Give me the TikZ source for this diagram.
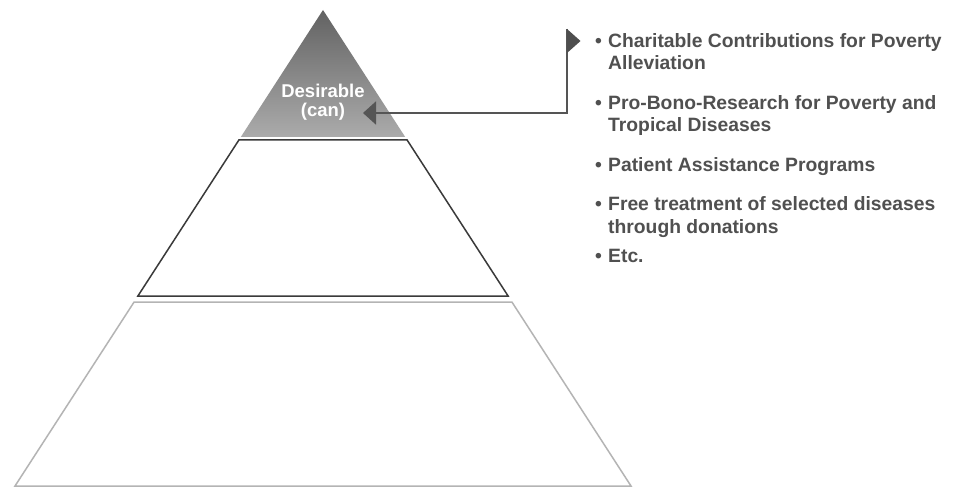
\documentclass[tikz,border=0pt]{standalone}
\usepackage{fontspec}
\setmainfont{Liberation Sans}
\usetikzlibrary{arrows.meta}
\definecolor{txtgray}{HTML}{505050}
\definecolor{linegray}{HTML}{555555}
\definecolor{darkedge}{HTML}{3A3A3A}
\definecolor{lightedge}{HTML}{B4B4B4}
\definecolor{apexgray}{HTML}{626262}
\definecolor{basegray}{HTML}{ABABAB}
\begin{document}
\begin{tikzpicture}[x=1pt,y=-1pt,
  listtext/.style={anchor=base west, inner sep=0pt, text=txtgray,
    font=\bfseries\fontsize{19.3}{22}\selectfont},
  leveltext/.style={anchor=base, inner sep=0pt, text=white,
    font=\bfseries\fontsize{18.5}{19.5}\selectfont},
  connector/.style={draw=linegray, line width=2pt},
  headfill/.style={fill=darkedge!90}
]
\useasboundingbox (0,0) rectangle (963,497);
\fill[white] (0,0) rectangle (963,497);

% top level (shaded triangle)
\shade[top color=apexgray, bottom color=basegray] (323,10) -- (405.2,137) -- (240.8,137) -- cycle;
% middle level
\draw[darkedge, line width=1.5pt, line join=miter] (238.9,140) -- (407.1,140) -- (508.1,296) -- (137.9,296) -- cycle;
% bottom level
\draw[lightedge, line width=1.5pt] (134.1,302) -- (511.9,302) -- (631,486) -- (15,486) -- cycle;

\node[leveltext] (des) at (323,98) {Desirable};
\node[leveltext] (can) at (323,117) {(can)};

% list
\node[listtext] (b1) at (595,48) {•};
\node[listtext] (l1a) at (608,48) {Charitable Contributions for Poverty};
\node[listtext] (l1b) at (608,70) {Alleviation};
\node[listtext] (b2) at (595,110) {•};
\node[listtext] (l2a) at (608,110) {Pro-Bono-Research for Poverty and};
\node[listtext] (l2b) at (608,132) {Tropical Diseases};
\node[listtext] (b3) at (595,172) {•};
\node[listtext] (l3) at (608,172) {Patient Assistance Programs};
\node[listtext] (b4) at (595,211) {•};
\node[listtext] (l4a) at (608,211) {Free treatment of selected diseases};
\node[listtext] (l4b) at (608,233) {through donations};
\node[listtext] (b5) at (595,262) {•};
\node[listtext] (l5) at (608,262) {Etc.};

% connector
\coordinate (src) at (567,29);
\coordinate (bend) at (567,113);
\coordinate (tip) at (363,113);
\draw[connector, -{Triangle[length=13pt,width=23pt]}] (src) -- (bend) -- (tip);
\fill[headfill] (567,29) -- (580.5,41) -- (567,53) -- cycle;
\end{tikzpicture}
\end{document}
